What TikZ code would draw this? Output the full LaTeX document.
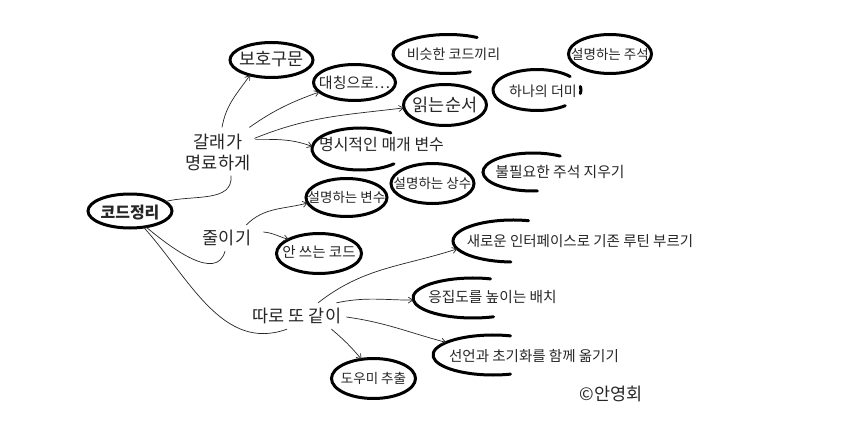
\documentclass[tikz,border=0pt]{standalone}
\usepackage{fontspec}
\setmainfont{Noto Sans CJK KR}
\usetikzlibrary{shapes.geometric,arrows.meta}
\newcommand\openarc[5]{%
  \draw[brush] ([shift={(#4:#2 and #3)}]#1.center) arc[start angle=#4,end angle=#5,x radius=#2,y radius=#3];}
\begin{document}
\begin{tikzpicture}[x=1pt,y=1pt,
  brush/.style={draw=black, line width=3pt, line cap=round},
  oval/.style 2 args={ellipse, inner sep=0pt, outer sep=0pt, minimum width=2*#1, minimum height=2*#2},
  txt/.style={inner sep=0pt, text=black!85, font=\fontsize{#1}{20}\selectfont},
  con/.style={draw=black!85, line width=0.7pt},
  conA/.style={con, -{Straight Barb[length=4.5pt,width=6pt]}},
]
\fill[white] (0,0) rectangle (846,-425);
\path[use as bounding box] (0,0) rectangle (846,-425);

% closed ellipses
\node[oval={42}{17}, brush] (code) at (130,-211) {};
\node[oval={41.5}{17.5}, brush] (bh) at (271.5,-60) {};
\node[oval={41}{18}, brush] (dc) at (354.5,-82.5) {};
\node[oval={41.5}{20.5}, brush] (rs) at (445,-105) {};
\node[oval={41.5}{19.5}, brush] (jsk) at (610,-54) {};
\node[oval={40.5}{19}, brush] (var) at (346.5,-197.5) {};
\node[oval={41.5}{20}, brush] (cst) at (432.5,-183.5) {};
\node[oval={42.5}{20}, brush] (unu) at (319,-253.5) {};
\node[oval={42}{20}, brush] (hlp) at (373.5,-378.5) {};

% open ellipses
\node[oval={55}{19.5}] (sim) at (448,-54) {};
\openarc{sim}{55}{19.5}{58}{294}
\node[oval={44}{20.5}] (dum) at (537,-90) {};
\openarc{dum}{44}{20.5}{41}{310}
\openarc{dum}{44}{20.5}{-10}{10}
\node[oval={48}{21}] (exp) at (360,-149) {};
\openarc{exp}{48}{21}{50}{315}
\node[oval={50}{19}] (rmv) at (533,-172) {};
\openarc{rmv}{50}{19}{57}{275}
\node[oval={60}{21}] (new) at (513,-241) {};
\openarc{new}{60}{21}{75}{268}
\node[oval={60}{20}] (coh) at (473,-298) {};
\openarc{coh}{60}{20}{73}{290}
\node[oval={60}{20}] (dec) at (493,-355) {};
\openarc{dec}{60}{20}{73}{287}

% texts
\node[txt=16, font=\fontsize{16}{20}\bfseries] (codeT) at (130,-212.5) {코드정리};
\node[txt=17.5] (bhT) at (271.5,-59.5) {보호구문};
\node[txt=15] (dcT) at (354.5,-82.5) {대칭으로…};
\node[txt=17.5] (rsT) at (445,-105) {읽는순서};
\node[txt=13.5] (jskT) at (610,-54) {설명하는 주석};
\node[txt=14] (simT) at (453.5,-54) {비슷한 코드끼리};
\node[txt=14] (dumT) at (543,-91) {하나의 더미};
\node[txt=16] (expT) at (381.5,-145) {명시적인 매개 변수};
\node[txt=13.5] (varT) at (346.5,-197.5) {설명하는 변수};
\node[txt=13.5] (cstT) at (432.5,-183.5) {설명하는 상수};
\node[txt=14.8] (rmvT) at (560,-172) {불필요한 주석 지우기};
\node[txt=14.5] (unuT) at (319,-252) {안 쓰는 코드};
\node[txt=14.5] (newT) at (580,-241) {새로운 인터페이스로 기존 루틴 부르기};
\node[txt=14.7] (cohT) at (492.5,-297.5) {응집도를 높이는 배치};
\node[txt=14.5] (decT) at (534,-356.5) {선언과 초기화를 함께 옮기기};
\node[txt=13.5] (hlpT) at (373.5,-378) {도우미 추출};
\node[txt=17.5, font=\fontsize{17.5}{21}\selectfont, align=center] (gal) at (218,-152) {갈래가\\명료하게};
\node[txt=17.5] (jul) at (227,-238) {줄이기};
\node[txt=17.5] (tro) at (297,-316) {따로 또 같이};
\node[txt=17.5] (cr) at (611,-394) {©안영회};

% connectors
\draw[con] (code.15) to[out=15,in=-85] ([shift={(13,-5)}]gal.south);
\draw[con] (code.-45) to[out=-40,in=-105] ([shift={(-2,-5)}]jul.south);
\draw[con] (code.-50) to[out=-48,in=200] ([shift={(-10,-5)}]tro.south);

\draw[conA] ([shift={(4,6)}]gal.north) to[out=80,in=-125] (bh.215);
\draw[conA] ([shift={(-1,6)}]gal.north east) to[out=35,in=200] (dc.195);
\draw[conA] ([shift={(4,-5)}]gal.north east) to[out=22,in=187] (rs.184);
\draw[conA] ([shift={(5,-6)}]gal.north east) to[out=0,in=160] (exp.177);

\draw[conA] ([shift={(-5,5)}]jul.north east) to[out=45,in=195] (var.188);
\draw[conA] ([shift={(12,6)}]jul.east) to[out=-5,in=165] (unu.155);

\draw[conA] ([shift={(21,5)}]tro.north) to[out=38,in=198] (new.188);
\draw[conA] ([shift={(-5,5)}]tro.north east) to[out=12,in=180] (coh.182);
\draw[conA] ([shift={(5,-1)}]tro.east) to[out=-8,in=165] (dec.165);
\draw[conA] ([shift={(-10,-5)}]tro.south east) to[out=-40,in=130] (hlp.122);
\end{tikzpicture}
\end{document}
